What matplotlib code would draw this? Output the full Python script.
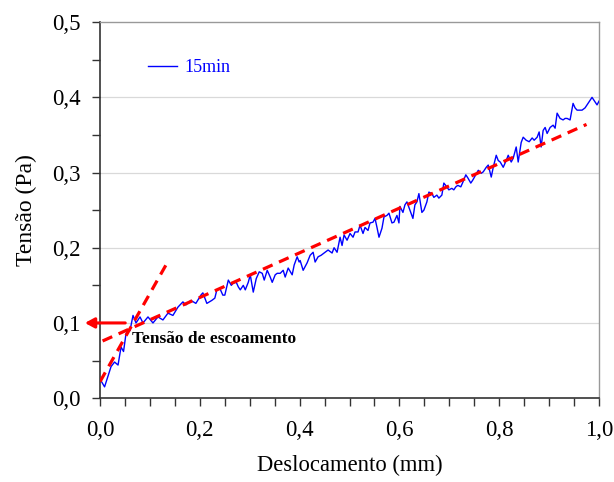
import matplotlib.pyplot as plt
from matplotlib.ticker import MultipleLocator, FuncFormatter

plt.rcParams['font.family'] = ['Liberation Serif', 'DejaVu Serif']

# measured curve (deslocamento mm, tensao Pa)
desloc = [0.001, 0.009, 0.022, 0.029, 0.036, 0.042, 0.047, 0.052, 0.060, 0.066,
          0.072, 0.080, 0.086, 0.096, 0.106, 0.116, 0.126, 0.136, 0.146, 0.156,
          0.166, 0.172, 0.182, 0.192, 0.202, 0.206, 0.214, 0.224, 0.230, 0.234,
          0.240, 0.246, 0.250, 0.257, 0.263, 0.267, 0.273, 0.277, 0.281, 0.287,
          0.291, 0.297, 0.301, 0.307, 0.313, 0.319, 0.325, 0.329, 0.335, 0.341,
          0.345, 0.351, 0.355, 0.361, 0.367, 0.371, 0.377, 0.385, 0.389, 0.395,
          0.399, 0.401, 0.407, 0.415, 0.421, 0.427, 0.431, 0.437, 0.443, 0.451,
          0.457, 0.465, 0.469, 0.475, 0.481, 0.485, 0.489, 0.495, 0.501, 0.507,
          0.511, 0.517, 0.521, 0.527, 0.531, 0.537, 0.541, 0.547, 0.551, 0.555,
          0.559, 0.565, 0.569, 0.575, 0.579, 0.585, 0.589, 0.595, 0.599, 0.601,
          0.607, 0.611, 0.615, 0.621, 0.627, 0.631, 0.635, 0.639, 0.645, 0.649,
          0.655, 0.659, 0.665, 0.669, 0.675, 0.679, 0.685, 0.689, 0.695, 0.699,
          0.705, 0.709, 0.713, 0.717, 0.723, 0.727, 0.733, 0.737, 0.743, 0.747,
          0.753, 0.758, 0.764, 0.768, 0.774, 0.778, 0.784, 0.788, 0.794, 0.798,
          0.802, 0.808, 0.814, 0.818, 0.824, 0.828, 0.834, 0.838, 0.844, 0.848,
          0.854, 0.860, 0.866, 0.870, 0.876, 0.880, 0.884, 0.888, 0.892, 0.896,
          0.902, 0.908, 0.912, 0.916, 0.922, 0.928, 0.932, 0.936, 0.942, 0.948,
          0.952, 0.956, 0.962, 0.966, 0.972, 0.976, 0.982, 0.986, 0.990, 0.996,
          1.000]
tensao = [0.024, 0.015, 0.042, 0.048, 0.044, 0.068, 0.062, 0.086, 0.090, 0.110,
          0.100, 0.108, 0.100, 0.108, 0.100, 0.108, 0.104, 0.113, 0.110, 0.121,
          0.128, 0.124, 0.130, 0.126, 0.137, 0.140, 0.126, 0.130, 0.133, 0.144,
          0.146, 0.137, 0.137, 0.157, 0.150, 0.153, 0.154, 0.148, 0.144, 0.150,
          0.144, 0.154, 0.164, 0.141, 0.159, 0.168, 0.166, 0.157, 0.170, 0.161,
          0.154, 0.164, 0.166, 0.166, 0.170, 0.161, 0.173, 0.164, 0.177, 0.188,
          0.181, 0.183, 0.170, 0.180, 0.190, 0.194, 0.181, 0.188, 0.190, 0.194,
          0.197, 0.193, 0.200, 0.194, 0.214, 0.203, 0.217, 0.210, 0.219, 0.214,
          0.221, 0.221, 0.230, 0.219, 0.227, 0.223, 0.233, 0.234, 0.239, 0.227,
          0.214, 0.226, 0.241, 0.243, 0.246, 0.233, 0.234, 0.243, 0.233, 0.255,
          0.247, 0.257, 0.261, 0.250, 0.239, 0.257, 0.261, 0.272, 0.247, 0.250,
          0.261, 0.274, 0.272, 0.267, 0.270, 0.266, 0.270, 0.286, 0.281, 0.277,
          0.279, 0.277, 0.281, 0.283, 0.281, 0.287, 0.297, 0.293, 0.286, 0.290,
          0.297, 0.303, 0.299, 0.301, 0.307, 0.310, 0.294, 0.307, 0.323, 0.316,
          0.314, 0.307, 0.316, 0.323, 0.314, 0.319, 0.334, 0.314, 0.340, 0.347,
          0.343, 0.341, 0.346, 0.343, 0.347, 0.354, 0.334, 0.356, 0.360, 0.352,
          0.360, 0.363, 0.359, 0.379, 0.372, 0.370, 0.372, 0.372, 0.370, 0.392,
          0.386, 0.383, 0.383, 0.383, 0.386, 0.390, 0.396, 0.400, 0.396, 0.390,
          0.395]

# tangent lines used to find the yield stress
elast_x = [0.0, 0.132]
elast_y = [0.022, 0.177]
plast_x = [0.005, 0.975]
plast_y = [0.076, 0.364]
tensao_escoamento = 0.1

fig = plt.figure(figsize=(6.14, 4.82), dpi=100)
ax = fig.add_axes([0.163, 0.174, 0.8126, 0.78])

ax.plot(desloc, tensao, color='#0000ff', lw=1.0, label='15min', zorder=3)
ax.plot(elast_x, elast_y, color='#ff0000', lw=2.3, dashes=(3.3, 2.2), zorder=4)
ax.plot(plast_x, plast_y, color='#ff0000', lw=2.3, dashes=(3.3, 2.2), zorder=4)

ax.annotate('', xy=(-0.036, tensao_escoamento), xytext=(0.056, tensao_escoamento),
            arrowprops=dict(arrowstyle='-|>,head_length=0.55,head_width=0.3',
                            color='#ff0000', lw=2.2), annotation_clip=False, zorder=5)
ax.text(0.064, 0.078, 'Tensão de escoamento', fontsize=12.5, fontweight='bold',
        va='center', ha='left', zorder=6)

ax.set_xlim(0, 1.0)
ax.set_ylim(0, 0.5)
ax.xaxis.set_major_locator(MultipleLocator(0.2))
ax.xaxis.set_minor_locator(MultipleLocator(0.05))
ax.yaxis.set_major_locator(MultipleLocator(0.1))
ax.yaxis.set_minor_locator(MultipleLocator(0.05))
fmt = FuncFormatter(lambda v, p: f'{v:.1f}'.replace('.', ','))
ax.xaxis.set_major_formatter(fmt)
ax.yaxis.set_major_formatter(fmt)
ax.tick_params(which='both', direction='out', length=6, width=1, labelsize=16.5, color='#333333')
ax.tick_params(axis='x', pad=10)
ax.tick_params(axis='y', pad=8)

for y in [0.1, 0.2, 0.3, 0.4]:
    ax.axhline(y, color='#d9d9d9', lw=0.9, zorder=1)

for s in ['left', 'bottom']:
    ax.spines[s].set_color('#333333')
    ax.spines[s].set_linewidth(1.2)
for s in ['top', 'right']:
    ax.spines[s].set_color('#999999')
    ax.spines[s].set_linewidth(1.0)

ax.set_xlabel('Deslocamento (mm)', fontsize=16.3, labelpad=10)
ax.set_ylabel('Tensão (Pa)', fontsize=17, labelpad=11)

leg = ax.legend(loc='upper left', bbox_to_anchor=(0.063, 0.945), frameon=False,
                fontsize=13, handlelength=1.6, handletextpad=0.45)
for t in leg.get_texts():
    t.set_color('#0000ff')

fig.savefig('out.png', dpi=100)
